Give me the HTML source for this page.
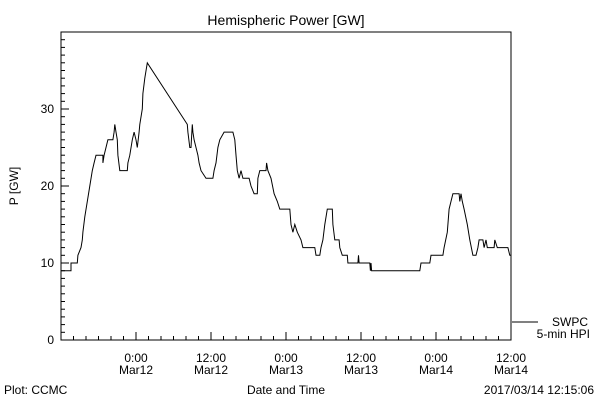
<!DOCTYPE html>
<html><head><meta charset="utf-8"><style>
html,body{margin:0;padding:0;background:#fff}
svg{display:block;font-family:"Liberation Sans",sans-serif}
</style></head><body>
<svg id="chart" width="600" height="400" viewBox="0 0 600 400">
<text x="286" y="25" font-size="14" text-anchor="middle">Hemispheric Power [GW]</text>
<rect x="61" y="32" width="450" height="308" fill="none" stroke="#000" stroke-width="1"/>
<g id="yaxis"></g>
<g id="xaxis"></g>
<text x="18" y="186" font-size="12" text-anchor="middle" transform="rotate(-90 18 186)">P [GW]</text>
<text x="286" y="394" font-size="12" text-anchor="middle">Date and Time</text>
<text x="4" y="394" font-size="12">Plot: CCMC</text>
<text x="594" y="394" font-size="12" text-anchor="end">2017/03/14 12:15:06</text>
<line x1="512" y1="322" x2="538" y2="322" stroke="#000"/>
<text x="588" y="326" font-size="12" text-anchor="end">SWPC</text>
<text x="590" y="338" font-size="12" text-anchor="end">5-min HPI</text>
<polyline id="series" fill="none" stroke="#000" stroke-width="1"/>
</svg>
<script>
const hours=[0,1.6,1.6,2.6,2.7,3.2,3.4,3.5,3.8,4.2,4.6,5.0,5.3,5.6,6.7,6.7,6.9,7.2,7.5,8.3,8.5,8.6,8.8,9.0,9.1,9.4,10.6,10.7,11.0,11.4,11.7,12.0,12.2,12.5,12.6,13.0,13.1,13.4,13.8,20.2,20.3,20.6,20.8,21.0,21.1,21.3,21.6,21.9,22.1,22.4,23.2,24.3,24.5,24.8,25.1,25.4,26.1,27.5,27.8,28.0,28.2,28.5,28.8,29.1,30.1,30.4,30.9,31.4,31.5,31.8,32.8,32.9,33.1,33.6,34.1,34.6,35.0,35.2,36.6,36.8,37.1,37.4,37.8,38.4,38.7,39.2,40.6,40.8,41.4,41.6,41.9,42.2,42.6,43.4,43.5,43.8,44.5,44.6,45.0,45.8,45.9,47.5,47.6,47.7,49.4,49.5,49.6,49.7,57.4,57.6,59.0,59.2,61.1,61.3,61.8,62.1,62.4,62.7,63.7,63.8,64.0,64.2,64.5,65.0,65.4,65.9,66.4,66.7,66.9,67.5,67.7,68.0,68.2,69.3,69.4,69.8,71.5,71.8,72.0];
const power=[9,9,10,10,11,12,13,14,16,18,20,22,23,24,24,23,24,25,26,26,27,28,27,26,24,22,22,23,24,26,27,26,25,27,28,30,32,34,36,28,27,25,25,28,27,26,25,24,23,22,21,21,22,23,25,26,27,27,26,24,22,21,22,21,21,20,19,19,21,22,22,23,22,21,19,18,17,17,17,15,14,15,14,13,12,12,12,11,11,12,13,15,17,17,15,13,13,12,11,11,10,10,11,10,10,9,10,9,9,10,10,11,11,12,14,17,18,19,19,18,19,18,17,15,13,11,11,12,13,13,12,13,12,12,13,12,12,11,11];
const yTickLabels=["0","10","20","30"];
const xTickLabels=[["0:00","Mar12"],["12:00","Mar12"],["0:00","Mar13"],["12:00","Mar13"],["0:00","Mar14"],["12:00","Mar14"]];
const NS="http://www.w3.org/2000/svg";
const X0=61,PXH=6.25,Y0=340,PXV=7.7;
function xs(h){return X0+h*PXH;}
function ys(v){return Y0-v*PXV;}
const ya=document.getElementById('yaxis');
for(let v=0;v<=40;v++){
  const l=document.createElementNS(NS,'line');
  
  
  const len=v%10===0?8:4;
  l.setAttribute('x1',X0);l.setAttribute('x2',X0+len);
  l.setAttribute('y1',ys(v));l.setAttribute('y2',ys(v));
  l.setAttribute('stroke','#000');ya.appendChild(l);
}
yTickLabels.forEach((s,i)=>{
  const t=document.createElementNS(NS,'text');
  
  
  t.setAttribute('x',X0-7);t.setAttribute('y',ys(i*10)+4);
  t.setAttribute('font-size','12');t.setAttribute('text-anchor','end');
  t.textContent=s;ya.appendChild(t);
});
const xa=document.getElementById('xaxis');
for(let h=0;h<=72;h+=2){
  const l=document.createElementNS(NS,'line');
  
  
  const len=h%12===0?8:4;
  l.setAttribute('x1',xs(h));l.setAttribute('x2',xs(h));
  l.setAttribute('y1',Y0);l.setAttribute('y2',Y0-len);
  l.setAttribute('stroke','#000');xa.appendChild(l);
}
xTickLabels.forEach((p,i)=>{
  p.forEach((s,j)=>{
    const t=document.createElementNS(NS,'text');
    
    
    t.setAttribute('x',xs(12+i*12));t.setAttribute('y',362+j*12);
    t.setAttribute('font-size','12');t.setAttribute('text-anchor','middle');
    t.textContent=s;xa.appendChild(t);
  });
});
document.getElementById('series').setAttribute('points',hours.map((h,i)=>xs(h).toFixed(1)+','+ys(power[i]).toFixed(1)).join(' '));
</script>
</body></html>
